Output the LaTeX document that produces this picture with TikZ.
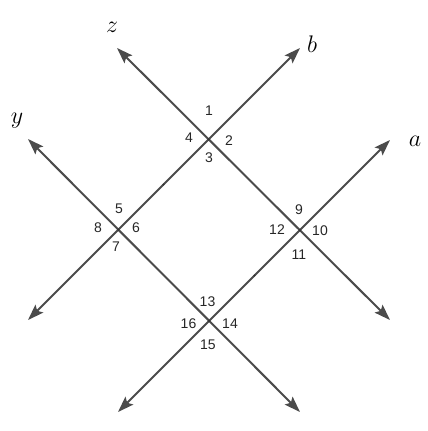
\RequirePackage{fix-cm}
\documentclass[tikz,border=0pt]{standalone}
\usepackage{fontspec}
\newfontfamily\labfont{Liberation Sans}
\usetikzlibrary{arrows.meta,calc}
\definecolor{lc}{RGB}{75,75,75}
\tikzset{
  geoline/.style={draw=lc, line width=2pt, {Stealth[length=16pt,width=11pt,inset=3pt]}-{Stealth[length=16pt,width=11pt,inset=3pt]}},
  anglab/.style={inner sep=0pt, font=\labfont\fontsize{14}{16}\selectfont, text=black!85},
  linelab/.style={inner sep=0pt, font=\fontsize{24}{28}\selectfont},
  ptdot/.style={fill=black!80, draw=none}
}
\begin{document}
\begin{tikzpicture}[x=1pt,y=-1pt]
\useasboundingbox (0,0) rectangle (428,431);
% end points of the four lines
\coordinate (z1) at (117,48);
\coordinate (z2) at (390,320);
\coordinate (b1) at (28,320);
\coordinate (b2) at (300,48);
\coordinate (y1) at (28,139);
\coordinate (y2) at (300,412);
\coordinate (a1) at (118,412);
\coordinate (a2) at (390,140);
% intersections
\coordinate (A) at (intersection of z1--z2 and b1--b2);
\coordinate (B) at (intersection of y1--y2 and b1--b2);
\coordinate (C) at (intersection of z1--z2 and a1--a2);
\coordinate (D) at (intersection of y1--y2 and a1--a2);
% lines
\draw[geoline] (z2) -- (z1);
\draw[geoline] (b1) -- (b2);
\draw[geoline] (y2) -- (y1);
\draw[geoline] (a1) -- (a2);
% points
\fill[ptdot] (A) circle (1.4pt);
\fill[ptdot] (B) circle (1.4pt);
\fill[ptdot] (C) circle (1.4pt);
\fill[ptdot] (D) circle (1.4pt);
\fill[ptdot] ($(A)!0.5!(B)$) circle (1.1pt);
\fill[ptdot] ($(C)!0.5!(D)$) circle (1.1pt);
% line labels
\node[linelab] (lz) at (112,27) {$z$};
\node[linelab] (lb) at (312,44) {$b$};
\node[linelab] (ly) at (17,121) {$y$};
\node[linelab] (la) at (415,141) {$a$};
% angle labels
\node[anglab] (n1) at (209,111) {1};
\node[anglab] (n2) at (229,141) {2};
\node[anglab] (n3) at (209,158) {3};
\node[anglab] (n4) at (189,138) {4};
\node[anglab] (n5) at (119,208.5) {5};
\node[anglab] (n6) at (136,228) {6};
\node[anglab] (n7) at (116,247) {7};
\node[anglab] (n8) at (98,228) {8};
\node[anglab] (n9) at (299,210) {9};
\node[anglab] (n10) at (320,231) {10};
\node[anglab] (n11) at (299,255) {11};
\node[anglab] (n12) at (277,230) {12};
\node[anglab] (n13) at (207.5,302) {13};
\node[anglab] (n14) at (230,324) {14};
\node[anglab] (n15) at (208,345) {15};
\node[anglab] (n16) at (188.5,324) {16};
\end{tikzpicture}
\end{document}
